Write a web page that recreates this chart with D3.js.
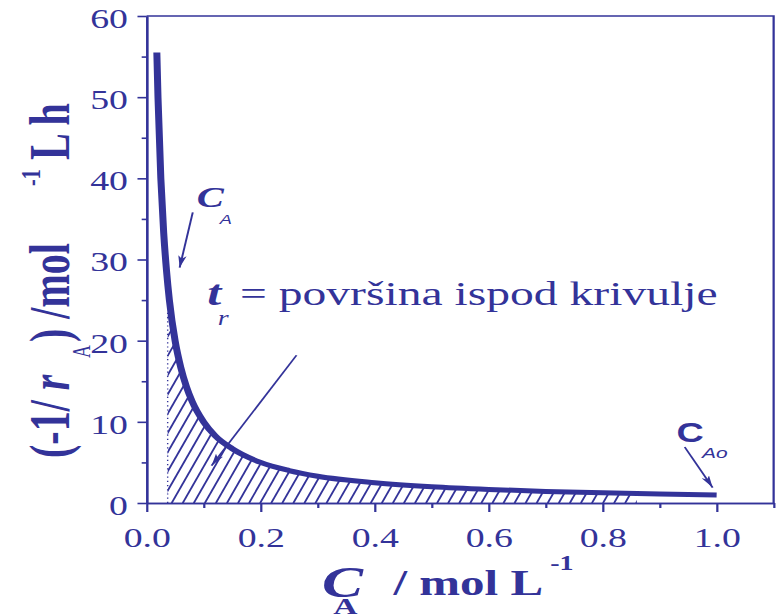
<!DOCTYPE html>
<html>
<head>
<meta charset="utf-8">
<script src="https://cdn.jsdelivr.net/npm/d3@7"></script>
<style>
  html, body { margin: 0; padding: 0; background: #fff; }
  svg { display: block; }
</style>
</head>
<body>
<div id="chart"></div>
<script>
// valeurs : C_A (mol/L) et -1/r_A (L h / mol)
const conc    = [0.018, 0.02, 0.025, 0.03, 0.035, 0.04, 0.05, 0.06, 0.07, 0.08, 0.1, 0.12, 0.15, 0.2, 0.25, 0.3, 0.4, 0.5, 0.6, 0.7, 0.8, 0.9, 1.0];
const invRate = [55.5, 50, 40, 33.3, 28.6, 25, 20, 16.7, 14.3, 12.5, 10, 8.3, 6.7, 5, 4, 3.3, 2.5, 2, 1.67, 1.43, 1.25, 1.11, 1.0];

const xTicks = [0, 0.2, 0.4, 0.6, 0.8, 1.0];
const xMinor = [0.1, 0.3, 0.5, 0.7, 0.9, 1.1];
const yTicks = [0, 10, 20, 30, 40, 50, 60];
const yMinor = [5, 15, 25, 35, 45, 55];

// zone hachurée et ligne pointillée
const hatchFrom = 0.037, hatchTo = 0.86, dotTop = 23.5;

// flèches : [x0, y0, x1, y1] en unités des données
const arrowCA  = [0.081, 35.8, 0.058, 29.0];
const arrowTr  = [0.263, 18.2, 0.114, 4.6];
const arrowCAo = [0.944, 6.9, 0.993, 1.9];

const W = 779, H = 616;
const SX = 1.4;              // la figure d'origine est étirée horizontalement
const COL = '#333399';
const SERIF = '"Liberation Serif", "Times New Roman", serif';
const SANS  = '"Liberation Sans", Arial, sans-serif';

const svg = d3.select('#chart').append('svg')
  .attr('width', W).attr('height', H)
  .attr('viewBox', `0 0 ${W / SX} ${H}`)
  .attr('preserveAspectRatio', 'none');

const x = d3.scaleLinear().domain([0, 1.1]).range([104.7, 552.6]);
const y = d3.scaleLinear().domain([0, 60]).range([503, 16]);

const pts = conc.map((c, i) => [c, invRate[i]]);

// --- hachures sous la courbe ---
const defs = svg.append('defs');
defs.append('clipPath').attr('id', 'under')
  .append('path')
  .attr('d', d3.area().x(d => x(d[0])).y0(y(0)).y1(d => y(d[1])).curve(d3.curveMonotoneX)(pts));
defs.append('clipPath').attr('id', 'span')
  .append('rect')
  .attr('x', x(hatchFrom)).attr('y', y(60))
  .attr('width', x(hatchTo) - x(hatchFrom)).attr('height', y(0) - y(60));

const hatchH = y(0) - y(30);
const slant = 0.41, step = 7.9;
const starts = d3.range(x(hatchFrom) - hatchH * slant, x(hatchTo), step);
svg.append('g').attr('clip-path', 'url(#under)')
  .append('g').attr('clip-path', 'url(#span)')
  .selectAll('line').data(starts).join('line')
  .attr('x1', d => d).attr('y1', y(0))
  .attr('x2', d => d + hatchH * slant).attr('y2', y(0) - hatchH)
  .attr('stroke', COL).attr('stroke-width', 1.4);

svg.append('line')
  .attr('x1', x(hatchFrom)).attr('x2', x(hatchFrom))
  .attr('y1', y(0)).attr('y2', y(dotTop))
  .attr('stroke', COL).attr('stroke-width', 1)
  .attr('stroke-dasharray', '1.2,3');

// --- axes ---
const axisStyle = g => {
  g.selectAll('path, line').attr('stroke', COL).attr('stroke-width', 1.6);
  g.selectAll('text').attr('fill', COL).style('font-family', SERIF).style('font-size', '27px');
};

svg.append('g').attr('transform', `translate(0,${y(0)})`)
  .call(d3.axisBottom(x).tickValues(xTicks).tickSize(9).tickSizeOuter(0).tickFormat(d3.format('.1f')))
  .call(axisStyle)
  .call(g => g.selectAll('text').attr('y', 44).attr('dy', 0));
svg.append('g').attr('transform', `translate(0,${y(0)})`)
  .call(d3.axisBottom(x).tickValues(xMinor).tickSize(5).tickSizeOuter(0).tickFormat(''))
  .call(axisStyle);

svg.append('g').attr('transform', `translate(${x(0)},0)`)
  .call(d3.axisLeft(y).tickValues(yTicks).tickSize(6.5).tickSizeOuter(0))
  .call(axisStyle)
  .call(g => g.selectAll('text').attr('x', -13.3).attr('dy', '0.42em'));
svg.append('g').attr('transform', `translate(${x(0)},0)`)
  .call(d3.axisLeft(y).tickValues(yMinor).tickSize(3.5).tickSizeOuter(0).tickFormat(''))
  .call(axisStyle);

// cadre haut et droit
svg.append('path')
  .attr('d', `M${x(0)},${y(60)}H${x(1.1)}V${y(0)}`)
  .attr('fill', 'none').attr('stroke', COL).attr('stroke-width', 1.6);

// --- courbe ---
svg.append('path')
  .datum(pts)
  .attr('d', d3.line().x(d => x(d[0])).y(d => y(d[1])).curve(d3.curveMonotoneX))
  .attr('fill', 'none').attr('stroke', COL).attr('stroke-width', 5);

// --- flèches ---
defs.append('marker').attr('id', 'head')
  .attr('viewBox', '0 0 12 6').attr('refX', 12).attr('refY', 3)
  .attr('markerWidth', 12).attr('markerHeight', 6)
  .attr('markerUnits', 'userSpaceOnUse').attr('orient', 'auto')
  .append('path').attr('d', 'M0,0L12,3L0,6L3,3Z').attr('fill', COL);

[arrowCA, arrowTr, arrowCAo].forEach(a => {
  svg.append('line')
    .attr('x1', x(a[0])).attr('y1', y(a[1]))
    .attr('x2', x(a[2])).attr('y2', y(a[3]))
    .attr('stroke', COL).attr('stroke-width', 1.4)
    .attr('marker-end', 'url(#head)');
});

// --- textes ---
function label(parent, px, py, str, size, opt = {}) {
  return parent.append('text')
    .attr('x', px).attr('y', py)
    .attr('fill', COL)
    .style('font-family', opt.family || SERIF)
    .style('font-size', size + 'px')
    .style('font-weight', opt.bold ? 'bold' : 'normal')
    .style('font-style', opt.italic ? 'italic' : 'normal')
    .text(str);
}

// C_A
label(svg, 140.5, 207, 'C', 29, { bold: true, italic: true });
label(svg, 157, 224, 'A', 13, { italic: true, family: SANS });

// t_r = površina ispod krivulje
label(svg, 148, 305, 't', 36, { bold: true, italic: true });
label(svg, 155.5, 325, 'r', 20, { italic: true });
label(svg, 171.4, 305, '= površina ispod krivulje', 34);

// C_Ao
label(svg, 483.3, 442, 'C', 27, { bold: true, family: SANS });
label(svg, 501.4, 458, 'Ao', 15, { italic: true, family: SANS });

// titre de l'axe x
label(svg, 230, 597, 'C', 44, { bold: true, italic: true });
label(svg, 238, 614, 'A', 24, { bold: true });
label(svg, 281, 595, '/ mol L', 35, { bold: true });
label(svg, 393, 570, '-1', 20, { bold: true });

// titre de l'axe y (vertical)
const yl = svg.append('g').attr('transform', 'rotate(-90)');
const first = label(yl, -458, 49, '(-1/ ', 40, { bold: true });
first.append('tspan').style('font-style', 'italic').text('r');
label(yl, -358, 64, 'A', 18);
label(yl, -342, 49, ') /mol', 40, { bold: true });
label(yl, -186, 28.6, '-1', 20, { bold: true });
label(yl, -160, 49, 'L h', 40, { bold: true });
</script>
</body>
</html>
